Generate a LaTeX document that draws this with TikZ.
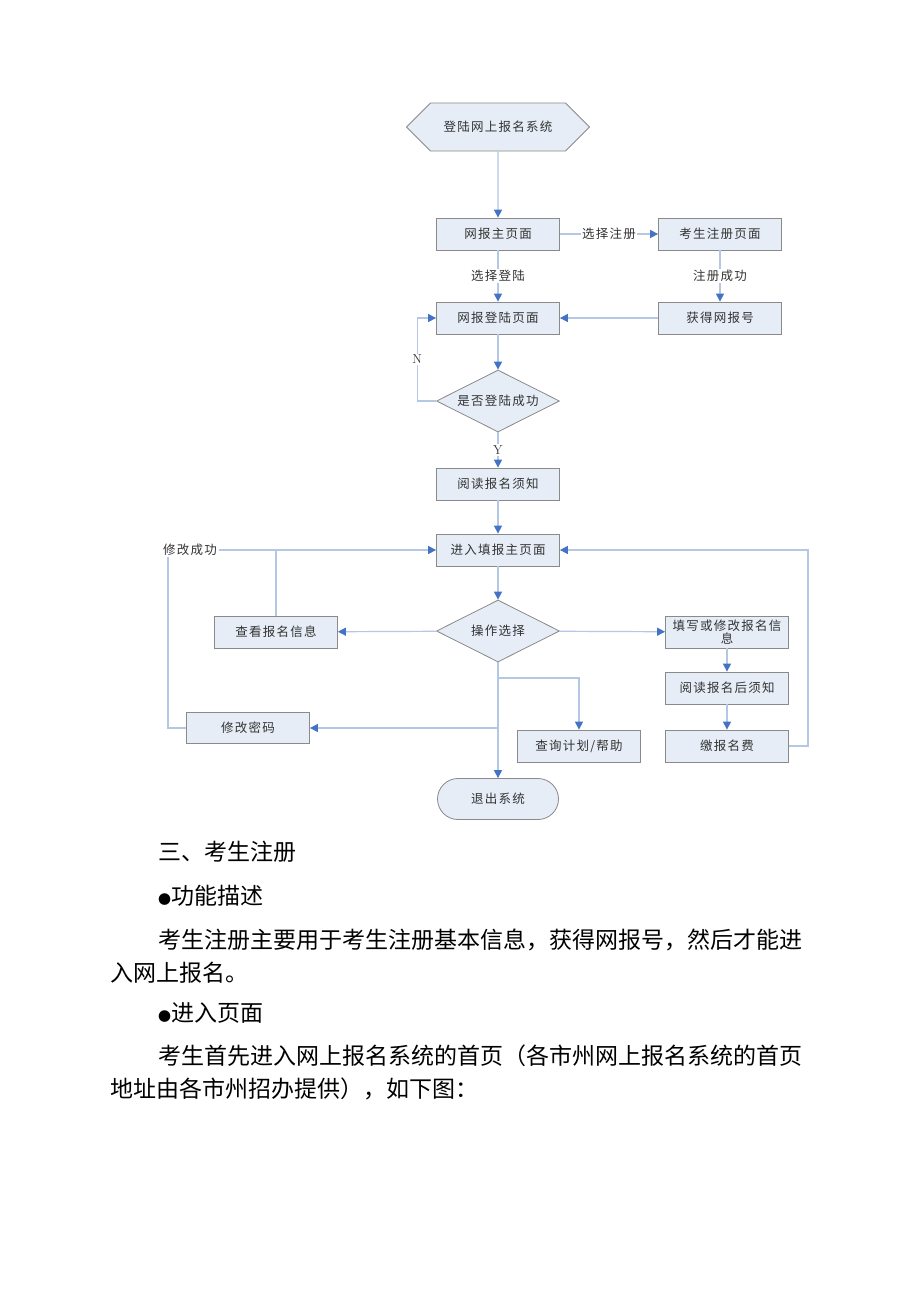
\documentclass[tikz,border=0pt]{standalone}
\usepackage{fontspec}
\newfontfamily\cjk{Noto Sans CJK SC}
\newfontfamily\cjkbox[LetterSpace=10]{Noto Sans CJK SC}
\usetikzlibrary{arrows.meta,shapes.geometric,shapes.symbols,shapes.misc}
\definecolor{boxfill}{HTML}{E6EDF7}
\definecolor{boxedge}{HTML}{8A8A8A}
\definecolor{wire}{HTML}{B4C8E6}
\definecolor{tipblue}{HTML}{4472C4}
\definecolor{ink}{HTML}{333333}
\newcommand{\bulletmark}{{\fontsize{13}{13}\selectfont ●}}
\tikzset{
  pagebox/.style={draw=boxedge,fill=boxfill,line width=0.8pt,minimum width=123pt,minimum height=32pt,inner sep=1pt,
    text=ink,font=\cjkbox\fontsize{12.5}{15}\selectfont,align=center},
  askbox/.style={pagebox,diamond,aspect=2,minimum width=123pt,minimum height=62pt,inner sep=0pt},
  wire/.style={draw=wire,line width=1.2pt},
  link/.style={wire,-{Triangle[length=8pt,width=8pt,color=tipblue]}},
  lbl/.style={fill=white,inner sep=1.5pt,text=ink,font=\cjkbox\fontsize{12.5}{15}\selectfont},
  yn/.style={lbl,font=\rmfamily\fontsize{13}{15}\selectfont},
  body/.style={anchor=west,inner sep=0pt,text=black,font=\cjk\fontsize{23}{28}\selectfont}
}
\begin{document}
\begin{tikzpicture}[x=1pt,y=-1pt]
\useasboundingbox[fill=white] (0,0) rectangle (920,1302);
% top part
\node[pagebox,signal,signal to=west and east,minimum width=183pt,minimum height=48pt] (start) at (498,127) {登陆网上报名系统};
\node[pagebox] (home) at (498,234) {网报主页面};
\node[pagebox] (reg) at (720,234) {考生注册页面};
\node[pagebox] (login) at (498,318) {网报登陆页面};
\node[pagebox] (getno) at (720,318) {获得网报号};
\node[askbox] (check) at (498,401) {是否登陆成功};
\node[pagebox] (notice) at (498,484) {阅读报名须知};
% main page and choices
\node[pagebox] (fill) at (498,550) {进入填报主页面};
\node[askbox] (oper) at (498,631) {操作选择};
\node[pagebox] (view) at (276,632) {查看报名信息};
\node[pagebox,inner sep=0pt,font=\cjkbox\fontsize{12.5}{13}\selectfont] (edit) at (727,632) {填写或修改报名信\\息};
\node[pagebox] (after) at (727,688) {阅读报名后须知};
\node[pagebox] (pay) at (727,746) {缴报名费};
\node[pagebox] (help) at (579,746) {查询计划/帮助};
\node[pagebox,minimum height=31pt] (pwd) at (248,728) {修改密码};
\node[pagebox,rounded rectangle,minimum height=41pt] (quit) at (498,799) {退出系统};
\node[lbl,fill=none] (okl) at (190,550) {修改成功};

\draw[link] (start) -- (home);
\draw[link] (home) -- (reg) node[lbl,midway] {选择注册};
\draw[link] (home) -- (login) node[lbl,midway] {选择登陆};
\draw[link] (reg) -- (getno) node[lbl,midway] {注册成功};
\draw[link] (getno) -- (login);
\draw[link] (login) -- (check);
\draw[link] (check.west) -- ++(-19,0) coordinate (nbend) -- (nbend |- login.west) node[yn,midway] {N} -- (login.west);
\draw[link] (check) -- (notice) node[yn,midway] {Y};
\draw[link] (notice) -- (fill);
\draw[link] (fill) -- (oper);
\draw[link] (oper) -- (view);
\draw[link] (oper) -- (edit);
\draw[link] (edit) -- (after);
\draw[link] (after) -- (pay);
\draw[link] (pay.east) -- ++(19,0) |- (fill.east);
\draw[link] (oper.south) -- (quit.north);
\coordinate (hbr) at (498,678);
\coordinate (pbr) at (498,728);
\draw[link] (hbr) -| (help.north);
\draw[link] (pbr) -- (pwd.east);
\coordinate (pup) at (168,557);
\draw[wire] (pwd.west) -| (pup);
\draw[link] (okl.east) -- (fill.west);
\draw[wire] (view.north) -- (view.north |- fill.west);
% text below
\node[body] (t1) at (158,852) {三、考生注册};
\node[body] (t2) at (158,896) {\bulletmark 功能描述};
\node[body] (t3) at (158,940) {考生注册主要用于考生注册基本信息，获得网报号，然后才能进};
\node[body] (t4) at (110,973) {入网上报名。};
\node[body] (t5) at (158,1013) {\bulletmark 进入页面};
\node[body] (t6) at (158,1056) {考生首先进入网上报名系统的首页（各市州网上报名系统的首页};
\node[body] (t7) at (110,1089) {地址由各市州招办提供），如下图：};
\end{tikzpicture}
\end{document}
